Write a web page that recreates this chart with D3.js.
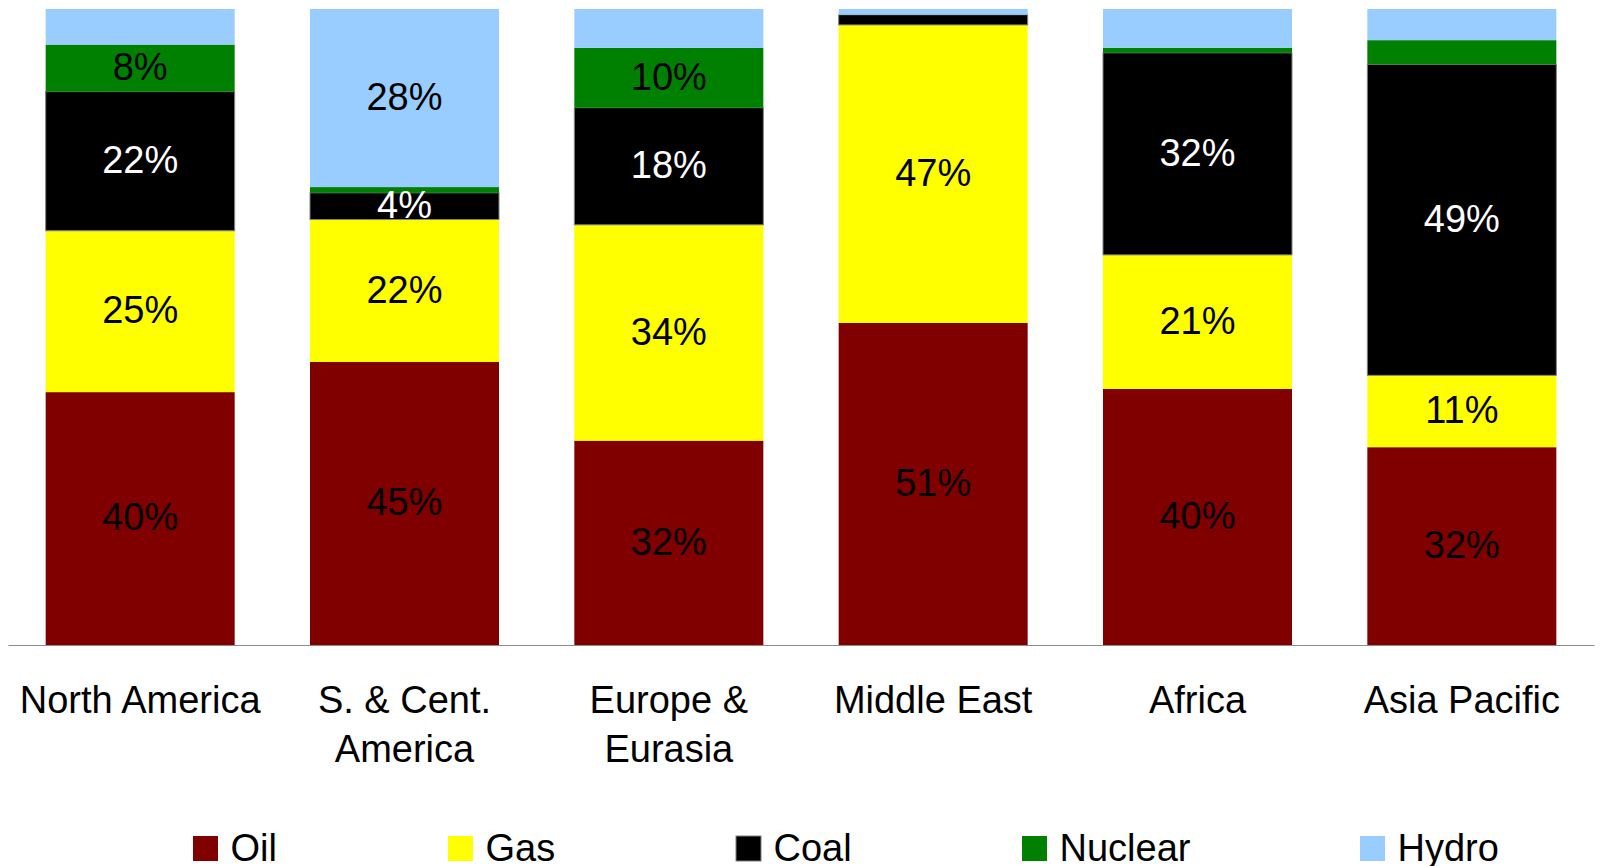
<!DOCTYPE html>
<html>
<head>
<meta charset="utf-8">
<script src="https://cdn.jsdelivr.net/npm/d3@7"></script>
<style>
  html, body { margin: 0; padding: 0; background: #fff; }
  svg { display: block; font-family: "Liberation Sans", Arial, sans-serif; }
</style>
</head>
<body>
<svg id="chart" width="1600" height="866"></svg>
<script>
// ---- Data ----
const categories = ["North America", "S. & Cent. America", "Europe & Eurasia", "Middle East", "Africa", "Asia Pacific"];
const categoryLines = [["North America"], ["S. & Cent.", "America"], ["Europe &", "Eurasia"], ["Middle East"], ["Africa"], ["Asia Pacific"]];
const seriesNames = ["Oil", "Gas", "Coal", "Nuclear", "Hydro"];
const oil     = [39.8, 44.5, 32.1, 50.6, 40.3, 31.1];
const gas     = [25.4, 22.4, 33.9, 46.8, 21.1, 11.3];
const coal    = [21.9,  4.2, 18.4,  1.6, 31.8, 48.9];
const nuclear = [ 7.4,  0.9,  9.4,  0.0,  0.8,  3.8];
const hydro   = [ 5.6, 28.0,  6.1,  0.9,  6.1,  4.9];
// data labels shown on the chart (null = no label)
const oilLabels     = ["40%", "45%", "32%", "51%", "40%", "32%"];
const gasLabels     = ["25%", "22%", "34%", "47%", "21%", "11%"];
const coalLabels    = ["22%", "4%", "18%", null, "32%", "49%"];
const nuclearLabels = ["8%", null, "10%", null, null, null];
const hydroLabels   = [null, "28%", null, null, null, null];

// ---- Styles ----
const colors = { Oil: "#800000", Gas: "#FFFF00", Coal: "#000000", Nuclear: "#008000", Hydro: "#99CCFF" };
const labelColors = { Oil: "#000", Gas: "#000", Coal: "#fff", Nuclear: "#000", Hydro: "#000" };
const strokes = { Coal: "#808080" };

const seriesValues = { Oil: oil, Gas: gas, Coal: coal, Nuclear: nuclear, Hydro: hydro };
const seriesLabels = { Oil: oilLabels, Gas: gasLabels, Coal: coalLabels, Nuclear: nuclearLabels, Hydro: hydroLabels };

const table = categories.map((c, i) => {
  const row = { category: c };
  seriesNames.forEach(s => row[s] = seriesValues[s][i]);
  return row;
});

const stacked = d3.stack().keys(seriesNames).offset(d3.stackOffsetExpand)(table);

const svg = d3.select("#chart");
const plotTop = 9, plotBase = 645;
const x = d3.scaleBand().domain(categories).range([8, 1594]).paddingInner(0.285).paddingOuter(0.1425);
const y = d3.scaleLinear().domain([0, 1]).range([plotBase, plotTop]);
const FS = 38;

// bars
const layers = svg.append("g").selectAll("g").data(stacked).join("g")
  .attr("fill", d => colors[d.key]);
layers.selectAll("rect").data(d => d.map(p => ({ key: d.key, p }))).join("rect")
  .attr("x", d => x(d.p.data.category))
  .attr("width", x.bandwidth())
  .attr("y", d => y(d.p[1]))
  .attr("height", d => Math.max(0, y(d.p[0]) - y(d.p[1])))
  .attr("stroke", d => strokes[d.key] || "none")
  .attr("stroke-width", d => strokes[d.key] ? 1 : 0)
  .attr("display", d => (d.p[1] - d.p[0]) > 0 ? null : "none");

// value labels
const lbl = svg.append("g").attr("font-size", FS).attr("text-anchor", "middle");
stacked.forEach(layer => {
  layer.forEach((p, i) => {
    const t = seriesLabels[layer.key][i];
    if (!t) return;
    lbl.append("text")
      .attr("x", x(p.data.category) + x.bandwidth() / 2)
      .attr("y", (y(p[0]) + y(p[1])) / 2)
      .attr("dy", "0.31em")
      .attr("fill", labelColors[layer.key])
      .text(t);
  });
});

// x axis
const axis = svg.append("g").attr("transform", `translate(0,${plotBase})`)
  .call(d3.axisBottom(x).tickSize(0).tickFormat(""));
axis.select(".domain").attr("stroke", "#8c8c8c").attr("stroke-width", 1.2);

const catG = svg.append("g").attr("font-size", FS).attr("text-anchor", "middle").attr("fill", "#000");
categories.forEach((c, i) => {
  const cx = x(c) + x.bandwidth() / 2;
  const t = catG.append("text").attr("x", cx).attr("y", 713);
  categoryLines[i].forEach((line, j) => {
    t.append("tspan").attr("x", cx).attr("dy", j === 0 ? 0 : 48.5).text(line);
  });
});

// legend
const legendX = [193, 448, 736, 1022, 1360];
const leg = svg.append("g").attr("font-size", FS);
seriesNames.forEach((s, i) => {
  const g = leg.append("g").attr("transform", `translate(${legendX[i]},836)`);
  g.append("rect").attr("width", 25).attr("height", 25).attr("fill", colors[s])
    .attr("stroke", strokes[s] || "none").attr("stroke-width", strokes[s] ? 1 : 0);
  g.append("text").attr("x", 37.5).attr("y", 24.5).attr("fill", "#000").text(s);
});
</script>
</body>
</html>
